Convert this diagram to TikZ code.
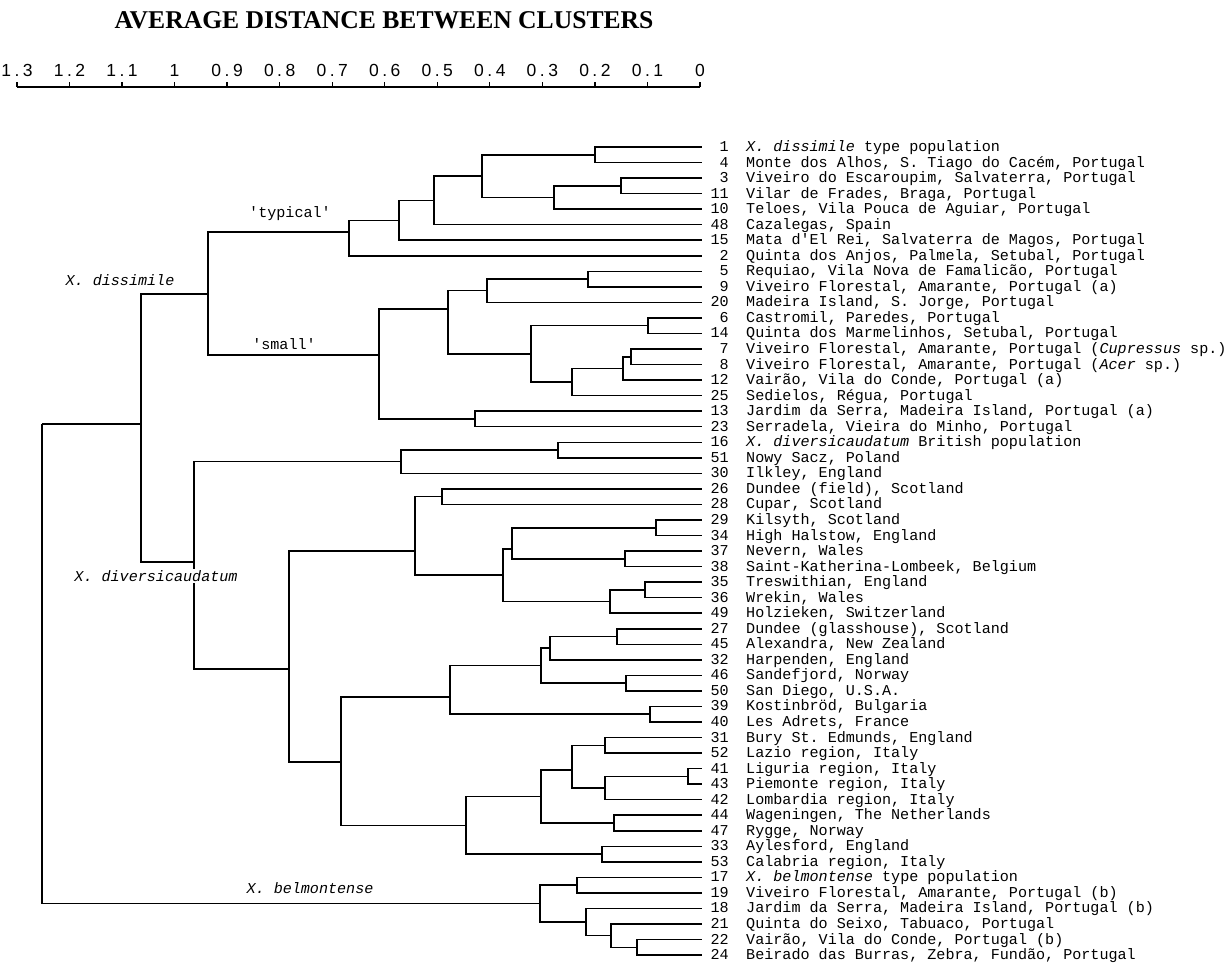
\documentclass[tikz,border=0pt]{standalone}
\usepackage{fontspec}
\setmonofont{Liberation Mono}
\newfontfamily\titlefont{Liberation Serif}
\newfontfamily\axisfont{Liberation Sans}[LetterSpace=20]

\tikzset{
  branch/.style={line width=1.5pt},
  leafnum/.style={anchor=base east, inner sep=0pt, font=\ttfamily\fontsize{15.1}{15.1}\selectfont},
  leaflab/.style={anchor=base west, inner sep=0pt, font=\ttfamily\fontsize{15.1}{15.1}\selectfont},
  grouplab/.style={inner sep=1pt, font=\ttfamily\fontsize{15.1}{15.1}\selectfont},
  axislab/.style={anchor=base, inner sep=0pt, font=\axisfont\fontsize{17.5}{17.5}\selectfont},
}

\begin{document}
\begin{tikzpicture}[x=1pt,y=-1pt]

    \useasboundingbox (0,0) rectangle (1231,962);
    \fill[white] (0,0) rectangle (1231,962);

    % title and scale
    \node[font=\titlefont\bfseries\fontsize{25.6}{25.6}\selectfont] (title) at (384,20) {AVERAGE DISTANCE BETWEEN CLUSTERS};
    \draw[line width=1.3pt] (17,87) -- (700,87);
    \foreach \v in {1.3,1.2,1.1,1,0.9,0.8,0.7,0.6,0.5,0.4,0.3,0.2,0.1,0} {
        \pgfmathsetmacro\xx{700-525.4*\v}
        \draw[line width=1.3pt] (\xx,87) -- (\xx,82);
        \node[axislab] at (\xx,76) {\v};
    }

    % leaves
    \foreach \num/\txt [count=\i from 0] in {
        1/{\textit{X. dissimile} type population},
        4/{Monte dos Alhos, S. Tiago do Cacém, Portugal},
        3/{Viveiro do Escaroupim, Salvaterra, Portugal},
        11/{Vilar de Frades, Braga, Portugal},
        10/{Teloes, Vila Pouca de Aguiar, Portugal},
        48/{Cazalegas, Spain},
        15/{Mata d\textquotesingle El Rei, Salvaterra de Magos, Portugal},
        2/{Quinta dos Anjos, Palmela, Setubal, Portugal},
        5/{Requiao, Vila Nova de Famalicão, Portugal},
        9/{Viveiro Florestal, Amarante, Portugal (a)},
        20/{Madeira Island, S. Jorge, Portugal},
        6/{Castromil, Paredes, Portugal},
        14/{Quinta dos Marmelinhos, Setubal, Portugal},
        7/{Viveiro Florestal, Amarante, Portugal (\textit{Cupressus} sp.)},
        8/{Viveiro Florestal, Amarante, Portugal (\textit{Acer} sp.)},
        12/{Vairão, Vila do Conde, Portugal (a)},
        25/{Sedielos, Régua, Portugal},
        13/{Jardim da Serra, Madeira Island, Portugal (a)},
        23/{Serradela, Vieira do Minho, Portugal},
        16/{\textit{X. diversicaudatum} British population},
        51/{Nowy Sacz, Poland},
        30/{Ilkley, England},
        26/{Dundee (field), Scotland},
        28/{Cupar, Scotland},
        29/{Kilsyth, Scotland},
        34/{High Halstow, England},
        37/{Nevern, Wales},
        38/{Saint-Katherina-Lombeek, Belgium},
        35/{Treswithian, England},
        36/{Wrekin, Wales},
        49/{Holzieken, Switzerland},
        27/{Dundee (glasshouse), Scotland},
        45/{Alexandra, New Zealand},
        32/{Harpenden, England},
        46/{Sandefjord, Norway},
        50/{San Diego, U.S.A.},
        39/{Kostinbröd, Bulgaria},
        40/{Les Adrets, France},
        31/{Bury St. Edmunds, England},
        52/{Lazio region, Italy},
        41/{Liguria region, Italy},
        43/{Piemonte region, Italy},
        42/{Lombardia region, Italy},
        44/{Wageningen, The Netherlands},
        47/{Rygge, Norway},
        33/{Aylesford, England},
        53/{Calabria region, Italy},
        17/{\textit{X. belmontense} type population},
        19/{Viveiro Florestal, Amarante, Portugal (b)},
        18/{Jardim da Serra, Madeira Island, Portugal (b)},
        21/{Quinta do Seixo, Tabuaco, Portugal},
        22/{Vairão, Vila do Conde, Portugal (b)},
        24/{Beirado das Burras, Zebra, Fundão, Portugal}} {
        \pgfmathsetmacro\yy{147+15.54*\i}
        \coordinate (L\num) at (702,\yy);
        \node[leafnum] (n\num) at (729,\yy+4.5) {\num};
        \node[leaflab] (t\num) at (746,\yy+4.5) {\txt};
    }

    % joins: X. dissimile "typical"
    \coordinate (j1-4) at (595,154.8);
    \coordinate (j3-11) at (621,185.9);
    \coordinate (j3-10) at (554,197.5);
    \coordinate (j1-10) at (482,176.2);
    \coordinate (j1-48) at (434,200.4);
    \coordinate (j1-15) at (399,220.3);
    \coordinate (typ) at (349,232);
    % X. dissimile "small"
    \coordinate (j5-9) at (588,279.1);
    \coordinate (j5-20) at (487,290.7);
    \coordinate (j6-14) at (648,325.7);
    \coordinate (j7-8) at (631,356.8);
    \coordinate (j7-12) at (623,368.4);
    \coordinate (j7-25) at (572,382.0);
    \coordinate (j6-25) at (531,353.9);
    \coordinate (j5-25) at (448,309);
    \coordinate (j13-23) at (475,419.0);
    \coordinate (sml) at (379,355);
    \coordinate (dis) at (208,294);
    % X. diversicaudatum
    \coordinate (j16-51) at (558,450.0);
    \coordinate (j16-30) at (401,461.7);
    \coordinate (j26-28) at (442,496.7);
    \coordinate (j29-34) at (656,527.8);
    \coordinate (j37-38) at (625,558.8);
    \coordinate (j29-38) at (512,549);
    \coordinate (j35-36) at (645,589.9);
    \coordinate (j35-49) at (610,601.6);
    \coordinate (j29-49) at (503,575);
    \coordinate (j26-49) at (415,551);
    \coordinate (j27-45) at (617,636.5);
    \coordinate (j27-32) at (550,648.1);
    \coordinate (j46-50) at (626,683.2);
    \coordinate (j27-50) at (541,665.6);
    \coordinate (j39-40) at (650,714.2);
    \coordinate (j27-40) at (450,697);
    \coordinate (j31-52) at (605,745.3);
    \coordinate (j41-43) at (688,776.4);
    \coordinate (j41-42) at (605,788.0);
    \coordinate (j31-42) at (572,770);
    \coordinate (j44-47) at (614,823.0);
    \coordinate (j31-47) at (541,796.5);
    \coordinate (j33-53) at (602,854.1);
    \coordinate (j31-53) at (466,825.3);
    \coordinate (j27-53) at (341,762);
    \coordinate (j26-53) at (289,669);
    \coordinate (div) at (194,562);
    \coordinate (dd) at (141,424);
    % X. belmontense
    \coordinate (j17-19) at (577,885.2);
    \coordinate (j22-24) at (637,947.3);
    \coordinate (j21-24) at (611,935.7);
    \coordinate (j18-24) at (586,922.1);
    \coordinate (bel) at (540,903.6);
    \coordinate (root) at (42,424);

    \foreach \p/\c in {
        j1-4/L1, j1-4/L4, j3-11/L3, j3-11/L11, j3-10/j3-11, j3-10/L10,
        j1-10/j1-4, j1-10/j3-10, j1-48/j1-10, j1-48/L48, j1-15/j1-48, j1-15/L15,
        typ/j1-15, typ/L2,
        j5-9/L5, j5-9/L9, j5-20/j5-9, j5-20/L20, j6-14/L6, j6-14/L14,
        j7-8/L7, j7-8/L8, j7-12/j7-8, j7-12/L12, j7-25/j7-12, j7-25/L25,
        j6-25/j6-14, j6-25/j7-25, j5-25/j5-20, j5-25/j6-25,
        j13-23/L13, j13-23/L23, sml/j5-25, sml/j13-23,
        dis/typ, dis/sml,
        j16-51/L16, j16-51/L51, j16-30/j16-51, j16-30/L30,
        j26-28/L26, j26-28/L28, j29-34/L29, j29-34/L34, j37-38/L37, j37-38/L38,
        j29-38/j29-34, j29-38/j37-38, j35-36/L35, j35-36/L36, j35-49/j35-36, j35-49/L49,
        j29-49/j29-38, j29-49/j35-49, j26-49/j26-28, j26-49/j29-49,
        j27-45/L27, j27-45/L45, j27-32/j27-45, j27-32/L32, j46-50/L46, j46-50/L50,
        j27-50/j27-32, j27-50/j46-50, j39-40/L39, j39-40/L40, j27-40/j27-50, j27-40/j39-40,
        j31-52/L31, j31-52/L52, j41-43/L41, j41-43/L43, j41-42/j41-43, j41-42/L42,
        j31-42/j31-52, j31-42/j41-42, j44-47/L44, j44-47/L47, j31-47/j31-42, j31-47/j44-47,
        j33-53/L33, j33-53/L53, j31-53/j31-47, j31-53/j33-53,
        j27-53/j27-40, j27-53/j31-53, j26-53/j26-49, j26-53/j27-53,
        div/j16-30, div/j26-53, dd/dis, dd/div,
        j17-19/L17, j17-19/L19, j22-24/L22, j22-24/L24, j21-24/L21, j21-24/j22-24,
        j18-24/L18, j18-24/j21-24, bel/j17-19, bel/j18-24,
        root/dd, root/bel} {
        \draw[branch] (\p) |- (\c);
    }

    % group labels
    \node[grouplab] (typlab) at (290,214) {\textquotesingle typical\textquotesingle};
    \node[grouplab] (smllab) at (284,344) {\textquotesingle small\textquotesingle};
    \node[grouplab] (dislab) at (120,280) {\textit{X. dissimile}};
    \node[grouplab, fill=white] (divlab) at (156,576) {\textit{X. diversicaudatum}};
    \node[grouplab] (bellab) at (310,888) {\textit{X. belmontense}};

\end{tikzpicture}
\end{document}
